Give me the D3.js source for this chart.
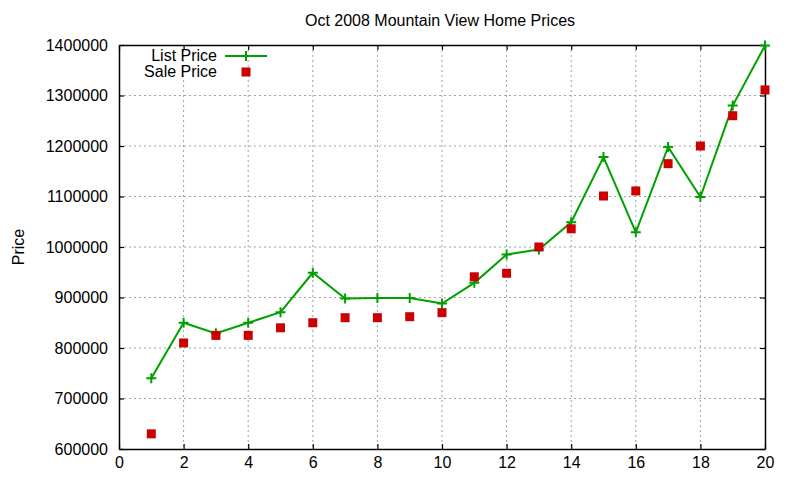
<!DOCTYPE html>
<html>
<head>
<meta charset="utf-8">
<script src="https://cdn.jsdelivr.net/npm/d3@7"></script>
<style>
  body { margin: 0; background: #fff; }
  svg { font-family: "Liberation Sans", Arial, sans-serif; }
</style>
</head>
<body>
<svg id="chart" width="800" height="480"></svg>
<script>
// data
const houses = [1, 2, 3, 4, 5, 6, 7, 8, 9, 10, 11, 12, 13, 14, 15, 16, 17, 18, 19, 20];
const listPrice = [740000, 850000, 829000, 850000, 871000, 949000, 898000, 899000, 899000, 888000,
                   929000, 985000, 995000, 1049000, 1178000, 1029000, 1198000, 1099000, 1280000, 1399000];
const salePrice = [630000, 810000, 825000, 825000, 840000, 850000, 860000, 860000, 862000, 870000,
                   941000, 948000, 1000000, 1036000, 1101000, 1111000, 1165000, 1200000, 1260000, 1311000];
const xTicks = [0, 2, 4, 6, 8, 10, 12, 14, 16, 18, 20];
const yTicks = [600000, 700000, 800000, 900000, 1000000, 1100000, 1200000, 1300000, 1400000];

const green = "#00a000", red = "#cc0000";
const fontSize = 16;

const svg = d3.select("#chart");
const pL = 119, pR = 765, pT = 45, pB = 449;

const x = d3.scaleLinear().domain([0, 20]).range([pL, pR]);
const y = d3.scaleLinear().domain([600000, 1400000]).range([pB, pT]);

// grid
const grid = svg.append("g").attr("class", "grid");
grid.selectAll(".vg").data(xTicks.slice(1, -1)).enter().append("line")
    .attr("x1", d => x(d)).attr("x2", d => x(d))
    .attr("y1", pT).attr("y2", pB)
    .attr("stroke", "#a0a0a0").attr("stroke-width", 1)
    .style("stroke-dasharray", "2,3");
grid.selectAll(".hg").data(yTicks.slice(1, -1)).enter().append("line")
    .attr("x1", pL).attr("x2", pR)
    .attr("y1", d => y(d)).attr("y2", d => y(d))
    .attr("stroke", "#a0a0a0").attr("stroke-width", 1)
    .style("stroke-dasharray", "2,3");

// axes: ticks point inward, mirrored on top and right
const tk = 5;
svg.append("g")
    .attr("transform", `translate(0,${pB})`)
    .call(d3.axisBottom(x).tickValues(xTicks).tickSize(-tk).tickPadding(8).tickSizeOuter(0))
    .call(g => g.selectAll("text").style("font-size", fontSize + "px").attr("fill", "#000"));
svg.append("g")
    .attr("transform", `translate(0,${pT})`)
    .call(d3.axisTop(x).tickValues(xTicks).tickSize(-tk).tickFormat("").tickSizeOuter(0));
svg.append("g")
    .attr("transform", `translate(${pL},0)`)
    .call(d3.axisLeft(y).tickValues(yTicks).tickSize(-tk).tickPadding(11).tickFormat(d3.format("d")).tickSizeOuter(0))
    .call(g => g.selectAll("text").style("font-size", fontSize + "px").attr("fill", "#000"));
svg.append("g")
    .attr("transform", `translate(${pR},0)`)
    .call(d3.axisRight(y).tickValues(yTicks).tickSize(-tk).tickFormat("").tickSizeOuter(0));
svg.selectAll(".domain").attr("stroke", "#000").attr("stroke-width", 1.5);
svg.selectAll(".tick line").attr("stroke", "#000").attr("stroke-width", 1.2);
svg.selectAll(".tick text").style("font-family", "'Liberation Sans', Arial, sans-serif");

// title and axis label
svg.append("text")
    .attr("x", 440).attr("y", 26)
    .attr("text-anchor", "middle")
    .style("font-size", fontSize + "px")
    .text("Oct 2008 Mountain View Home Prices");
svg.append("text")
    .attr("transform", "translate(18,247) rotate(-90)")
    .attr("text-anchor", "middle")
    .attr("dy", "0.35em")
    .style("font-size", fontSize + "px")
    .text("Price");

// list price line
const line = d3.line().x((d, i) => x(houses[i])).y(d => y(d));
svg.append("path")
    .datum(listPrice)
    .attr("d", line)
    .attr("fill", "none")
    .attr("stroke", green)
    .attr("stroke-width", 2);

const plus = (g, cx, cy) => {
    g.append("path")
        .attr("d", `M${cx - 5},${cy}H${cx + 5}M${cx},${cy - 5}V${cy + 5}`)
        .attr("stroke", green).attr("stroke-width", 2);
};
const marks = svg.append("g");
listPrice.forEach((d, i) => plus(marks, x(houses[i]), y(d)));

// sale price squares
svg.append("g").selectAll("rect")
    .data(salePrice).enter().append("rect")
    .attr("x", (d, i) => x(houses[i]) - 4.5)
    .attr("y", d => y(d) - 4.5)
    .attr("width", 9).attr("height", 9)
    .attr("fill", red);

// legend
const legend = svg.append("g").attr("class", "legend");
legend.append("text").attr("x", 217).attr("y", 61).attr("text-anchor", "end")
    .style("font-size", fontSize + "px").text("List Price");
legend.append("line").attr("x1", 225).attr("x2", 267).attr("y1", 56).attr("y2", 56)
    .attr("stroke", green).attr("stroke-width", 2);
plus(legend, 246, 56);
legend.append("text").attr("x", 217).attr("y", 77).attr("text-anchor", "end")
    .style("font-size", fontSize + "px").text("Sale Price");
legend.append("rect").attr("x", 241.5).attr("y", 67.5).attr("width", 9).attr("height", 9)
    .attr("fill", red);
</script>
</body>
</html>
